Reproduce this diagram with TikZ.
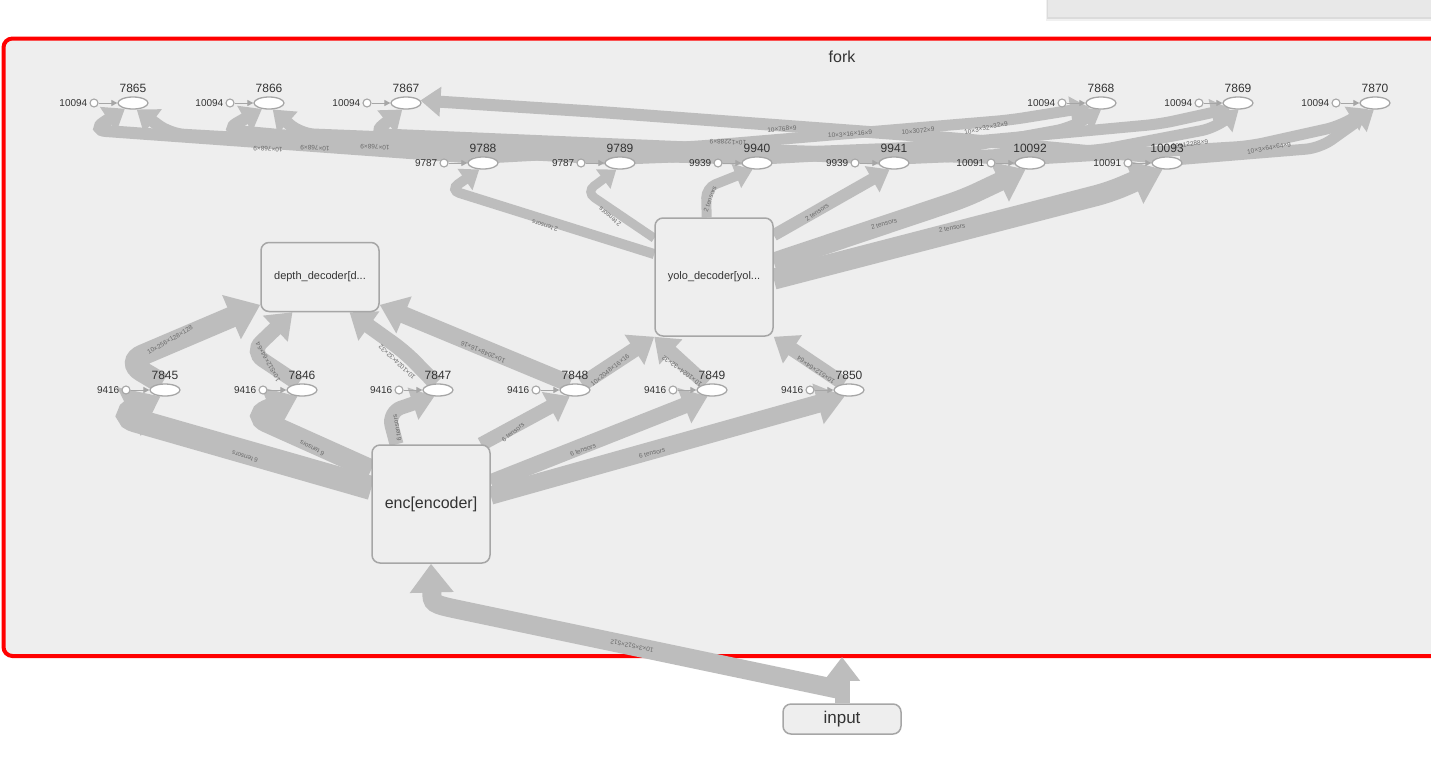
\documentclass[tikz,border=0pt]{standalone}
\usepackage{fontspec}
\setmainfont{Liberation Sans}
\usetikzlibrary{arrows.meta,shapes.geometric}
\definecolor{edgegray}{HTML}{BDBDBD}
\definecolor{nodegray}{HTML}{A6A6A6}
\definecolor{panelbg}{HTML}{EEEEEE}
\definecolor{txt}{HTML}{333333}
\definecolor{lbl}{HTML}{6A6A6A}
\definecolor{topgray}{HTML}{E8E8E8}
\definecolor{forkred}{HTML}{FF0000}
\pgfdeclarelayer{bg}
\pgfdeclarelayer{edges}
\pgfsetlayers{bg,edges,main}
\newcommand\mkop[4]{%
  \node[opnode] (n#1) at (#2,#3) {};
  \node[oplbl] (t#1) at (#2,#3-15) {#1};
  \node[constnode] (c#1) at (#2-39,#3) {};
  \node[constlbl] (ct#1) at ([xshift=-2pt]c#1.west) {#4};
  \draw[linkarrow] (c#1) -- (n#1);
}
\begin{document}
\begin{tikzpicture}[x=1pt,y=-1pt,
  opnode/.style={ellipse, draw=nodegray, fill=white, line width=1.3pt, minimum width=30pt, minimum height=12pt, inner sep=0pt},
  constnode/.style={circle, draw=nodegray, fill=white, line width=1.1pt, minimum size=8pt, inner sep=0pt},
  metanode/.style={draw=nodegray, fill=panelbg, line width=1.5pt, rounded corners=8pt, minimum width=118pt, minimum height=118pt, inner sep=0pt, text=txt, font=\fontsize{11}{13}\selectfont},
  oplbl/.style={text=txt, font=\fontsize{12}{12}\selectfont, inner sep=0pt},
  constlbl/.style={text=txt, font=\fontsize{10}{10}\selectfont, inner sep=0pt, anchor=east},
  flow/.style={draw=edgegray, line width=#1, rounded corners=10pt, -{Triangle[length=5pt 1.25, width=6pt 1.9]}},
  linkarrow/.style={draw=nodegray, line width=1pt, -{Triangle[length=6pt, width=6pt]}},
  elbl/.style={text=lbl, font=\fontsize{6.5}{6.5}\selectfont, inner sep=0pt}
]
\useasboundingbox (0,0) rectangle (1431,777);

% ---------- backgrounds ----------
\begin{pgfonlayer}{bg}
  \fill[white] (0,0) rectangle (1431,777);
  \fill[black!6] (1046,0) rectangle (1440,21);
  \fill[black!14] (1047,0) rectangle (1440,19);
  \fill[topgray] (1048,0) rectangle (1440,17);
  \draw[forkred, fill=panelbg, line width=4pt, rounded corners=9pt] (3.5,38.5) rectangle (1460,656);
\end{pgfonlayer}
\node[text=txt, font=\fontsize{16}{16}\selectfont, inner sep=0pt] (forklbl) at (842,57) {fork};

% ---------- op nodes ----------
\mkop{7865}{133}{103}{10094}
\mkop{7866}{269}{103}{10094}
\mkop{7867}{406}{103}{10094}
\mkop{7868}{1101}{103}{10094}
\mkop{7869}{1238}{103}{10094}
\mkop{7870}{1375}{103}{10094}

\mkop{9788}{483}{163}{9787}
\mkop{9789}{620}{163}{9787}
\mkop{9940}{757}{163}{9939}
\mkop{9941}{894}{163}{9939}
\mkop{10092}{1030}{163}{10091}
\mkop{10093}{1167}{163}{10091}

\mkop{7845}{165}{390}{9416}
\mkop{7846}{302}{390}{9416}
\mkop{7847}{438}{390}{9416}
\mkop{7848}{575}{390}{9416}
\mkop{7849}{712}{390}{9416}
\mkop{7850}{849}{390}{9416}

% ---------- meta nodes ----------
\node[metanode, minimum height=69pt] (depth) at (320,277) {depth\_decoder[d...};
\node[metanode] (yolo) at (714,277) {yolo\_decoder[yol...};
\node[metanode, font=\fontsize{16}{18}\selectfont] (enc) at (431,504) {enc[encoder]};
\node[metanode, minimum height=30pt, font=\fontsize{17}{18}\selectfont] (input) at (842,719) {input};
\coordinate (forkin) at (842,657);
\coordinate (forkjoin) at (842,690);

% ---------- edges ----------
\begin{pgfonlayer}{edges}
  % input
  \draw[flow=15pt] (input.north) -- (forkin);
  \draw[flow=19pt] (forkjoin) -- (470,612) .. controls (432,604) .. (enc.south);
  \node[elbl, rotate=168] (e0) at (632,646) {10×3×512×512};

  % encoder outputs
  \draw[flow=24pt, rounded corners=16pt] (enc.165) -- (120,416) -- (n7845.235);
  \draw[flow=20pt, rounded corners=16pt] (enc.150) -- (252,416) -- (n7846.235);
  \draw[flow=14pt, rounded corners=14pt] (enc.120) -- (388,412) -- (n7847.240);
  \draw[flow=14pt] (enc.50) -- (n7848.230);
  \draw[flow=16pt] (enc.20) -- (n7849.235);
  \draw[flow=18pt] (enc.8) -- (n7850.235);
  \node[elbl, rotate=163] (e1) at (245,457) {6 tensors};
  \node[elbl, rotate=152] (e2) at (312,448) {6 tensors};
  \node[elbl, rotate=100] (e3) at (397,428) {6 tensors};
  \node[elbl, rotate=39] (e4) at (513,432) {6 tensors};
  \node[elbl, rotate=20] (e5) at (583,450) {6 tensors};
  \node[elbl, rotate=15] (e6) at (652,453) {6 tensors};

  % to decoders
  \draw[flow=21pt, rounded corners=18pt] (n7845.115) -- (126,362) -- (depth.205);
  \draw[flow=15pt, rounded corners=14pt] (n7846.120) -- (251,352) -- (depth.232);
  \draw[flow=15pt, rounded corners=14pt] (n7847.110) -- (405,352) -- (depth.310);
  \draw[flow=17pt] (n7848.130) -- (depth.335);
  \draw[flow=15pt] (n7848.40) -- (yolo.225);
  \draw[flow=14pt] (n7849.135) -- (yolo.225);
  \draw[flow=14pt] (n7850.130) -- (yolo.south east);
  \node[elbl, rotate=30] (e7) at (170,340) {10×256×128×128};
  \node[elbl, rotate=119] (e8) at (268,362) {10×512×64×64};
  \node[elbl, rotate=137] (e9) at (397,362) {10×1024×32×32};
  \node[elbl, rotate=157] (e10) at (483,352) {10×2048×16×16};
  \node[elbl, rotate=39] (e11) at (610,370) {10×2048×16×16};
  \node[elbl, rotate=144] (e12) at (682,371) {10×1024×32×32};
  \node[elbl, rotate=146] (e13) at (816,370) {10×512×64×64};

  % yolo outputs
  \draw[flow=10pt] (yolo.159) -- (450,190) -- (n9788.240);
  \draw[flow=9pt] (yolo.147) -- (586,192) -- (n9789.240);
  \draw[flow=10pt] (yolo.97) -- (706,188) -- (n9940.235);
  \draw[flow=12pt] (yolo.35) -- (n9941.235);
  \draw[flow=19pt, rounded corners=14pt] (yolo.14) -- (965,198) -- (n10092.235);
  \draw[flow=21pt, rounded corners=14pt] (yolo.-2) -- (1110,192) -- (n10093.235);
  \node[elbl, rotate=163] (e14) at (545,226) {2 tensors};
  \node[elbl, rotate=140] (e15) at (610,217) {2 tensors};
  \node[elbl, rotate=70] (e16) at (710,199) {2 tensors};
  \node[elbl, rotate=34] (e17) at (817,212) {2 tensors};
  \node[elbl, rotate=16] (e18) at (884,224) {2 tensors};
  \node[elbl, rotate=12] (e19) at (952,228) {2 tensors};

  % second row to top row (left-bound)
  \draw[flow=12pt, rounded corners=14pt] (n9788.150) -- (300,145) -- (92,130) -- (n7865.215);
  \draw[flow=12pt, rounded corners=14pt] (n9940.160) -- (450,150) -- (170,134) -- (n7865.300);
  \draw[flow=12pt, rounded corners=14pt] (n9789.160) -- (420,148) -- (225,130) -- (n7866.220);
  \draw[flow=12pt, rounded corners=14pt] (n9941.160) -- (600,146) -- (300,134) -- (n7866.300);
  \draw[flow=12pt, rounded corners=14pt] (n10092.160) -- (700,148) -- (372,134) -- (n7867.240);
  \draw[flow=12pt, rounded corners=14pt] (n10093.150) -- (950,138) -- (600,112) -- (n7867.10);
  % second row to top row (right-bound)
  \draw[flow=11pt, rounded corners=14pt] (n9788.30) -- (700,146) -- (1010,120) -- (n7868.200);
  \draw[flow=11pt, rounded corners=14pt] (n9940.20) -- (960,148) -- (1070,128) -- (n7868.270);
  \draw[flow=11pt, rounded corners=14pt] (n9789.20) -- (900,148) -- (1160,124) -- (n7869.215);
  \draw[flow=11pt, rounded corners=14pt] (n9941.20) -- (1100,150) -- (1215,128) -- (n7869.275);
  \draw[flow=11pt, rounded corners=14pt] (n10092.20) -- (1250,146) -- (1340,126) -- (n7870.220);
  \draw[flow=11pt, rounded corners=14pt] (n10093.15) -- (1320,148) -- (n7870.260);

  \node[elbl, rotate=177] (e20) at (268,149) {10×768×9};
  \node[elbl, rotate=177] (e21) at (315,148) {10×768×9};
  \node[elbl, rotate=177] (e22) at (375,147) {10×768×9};
  \node[elbl, rotate=178] (e23) at (728,142) {10×12288×9};
  \node[elbl, rotate=5] (e24) at (782,129) {10×768×9};
  \node[elbl, rotate=4] (e25) at (850,134) {10×3×16×16×9};
  \node[elbl, rotate=6] (e26) at (918,131) {10×3072×9};
  \node[elbl, rotate=12] (e27) at (986,128) {10×3×32×32×9};
  \node[elbl, rotate=8] (e28) at (1190,144) {10×12288×9};
  \node[elbl, rotate=10] (e29) at (1269,148) {10×3×64×64×9};
\end{pgfonlayer}
\end{tikzpicture}
\end{document}
